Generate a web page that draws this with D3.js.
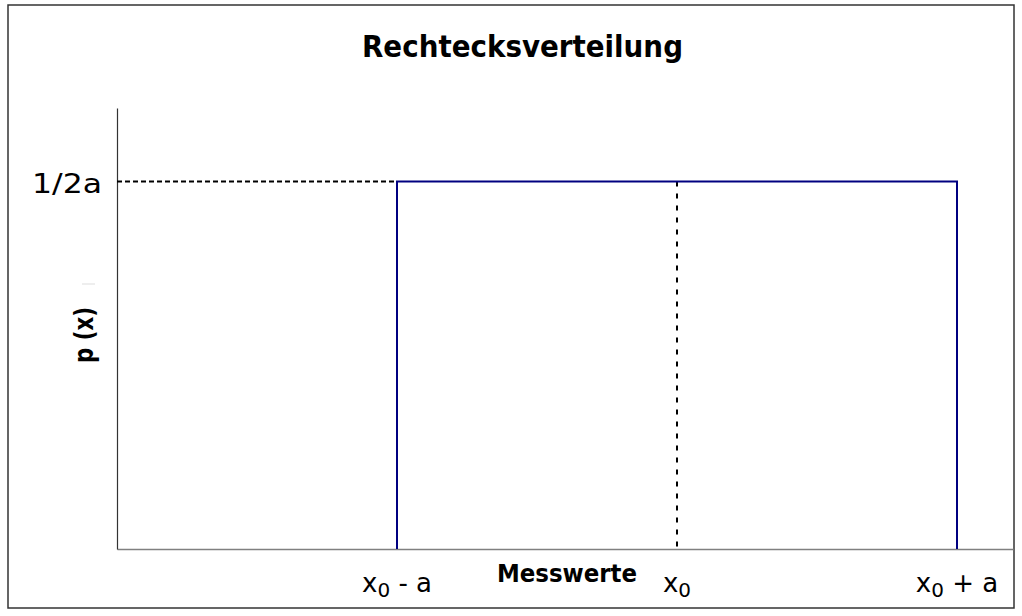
<!DOCTYPE html>
<html>
<head>
<meta charset="utf-8">
<script src="https://cdn.jsdelivr.net/npm/d3@7"></script>
<style>
html,body{margin:0;padding:0;background:#fff;}
svg{display:block;}
</style>
</head>
<body>
<svg id="chart" width="1022" height="616"></svg>
<script>
// Data (x in units of a relative to x0, y relative to 1/2a)
const title = "Rechtecksverteilung";
const xTitle = "Messwerte";
const yTitle = "p (x)";
const xDomain = [-2, 1.2];
const yDomain = [0, 1.2];
const xTickValues = [-1, 0, 1];
const xTickLabels = [["x", "0", " - a"], ["x", "0", ""], ["x", "0", " + a"]];
const yTickValues = [1];
const yTickLabels = ["1/2a"];
const densityX = [-1, -1, 1, 1];
const densityY = [0, 1, 1, 0];

const svg = d3.select("#chart");
const font = "'DejaVu Sans', sans-serif";

const x = d3.scaleLinear().domain(xDomain).range([117, 1013]);
const y = d3.scaleLinear().domain(yDomain).range([549, 108]);

// outer border
svg.append("rect").attr("x", 8).attr("y", 5).attr("width", 1006).attr("height", 603)
  .attr("fill", "none").attr("stroke", "#333").attr("stroke-width", 1.5);

// title
svg.append("text").attr("x", 522.5).attr("y", 57).attr("text-anchor", "middle")
  .attr("font-family", font).attr("font-weight", "bold").attr("font-size", 30)
  .attr("textLength", 321).attr("lengthAdjust", "spacingAndGlyphs").text(title);

// axes
const xAxis = d3.axisBottom(x).tickValues(xTickValues).tickSize(0).tickFormat("");
const gx = svg.append("g").attr("transform", `translate(0,${y(0)})`).call(xAxis);
gx.select(".domain").attr("stroke", "#808080").attr("stroke-width", 1.5);

const yAxis = d3.axisLeft(y).tickValues(yTickValues).tickSize(0).tickFormat("");
const gy = svg.append("g").attr("transform", `translate(${x(xDomain[0])},0)`).call(yAxis);
gy.select(".domain").attr("stroke", "#333").attr("stroke-width", 1.2);

// reference dashed lines
svg.append("line").attr("x1", x(xDomain[0])).attr("x2", x(densityX[0]))
  .attr("y1", y(yTickValues[0])).attr("y2", y(yTickValues[0]))
  .attr("stroke", "#000").attr("stroke-width", 2).attr("stroke-dasharray", "5,3");
svg.append("line").attr("x1", x(0)).attr("x2", x(0))
  .attr("y1", y(yTickValues[0])).attr("y2", y(0))
  .attr("stroke", "#000").attr("stroke-width", 2).attr("stroke-dasharray", "5,7");

// rectangle density
const line = d3.line().x(d => x(d[0])).y(d => y(d[1]));
svg.append("path").datum(densityX.map((v, i) => [v, densityY[i]]))
  .attr("d", line).attr("fill", "none").attr("stroke", "#000080").attr("stroke-width", 2);

// x tick labels
xTickValues.forEach((v, i) => {
  const t = svg.append("text").attr("x", x(v)).attr("y", 592).attr("text-anchor", "middle")
    .attr("font-family", font).attr("font-size", 26);
  const parts = xTickLabels[i];
  t.append("tspan").text(parts[0]);
  t.append("tspan").attr("font-size", 20).attr("dy", 5).text(parts[1]);
  if (parts[2]) t.append("tspan").attr("dy", -5).text(parts[2]);
});

// y tick label
yTickValues.forEach((v, i) => {
  svg.append("text").attr("x", 102).attr("y", y(v) + 11).attr("text-anchor", "end")
    .attr("font-family", font).attr("font-size", 26)
    .attr("textLength", 70).attr("lengthAdjust", "spacingAndGlyphs").text(yTickLabels[i]);
});

// axis titles
svg.append("text").attr("x", 567).attr("y", 582).attr("text-anchor", "middle")
  .attr("font-family", font).attr("font-weight", "bold").attr("font-size", 25)
  .attr("textLength", 140).attr("lengthAdjust", "spacingAndGlyphs").text(xTitle);

svg.append("text").attr("transform", "translate(93,335) rotate(-90)").attr("text-anchor", "middle")
  .attr("font-family", font).attr("font-weight", "bold").attr("font-size", 26)
  .attr("textLength", 56).attr("lengthAdjust", "spacingAndGlyphs").text(yTitle);
svg.append("line").attr("x1", 82).attr("x2", 95).attr("y1", 284).attr("y2", 284)
  .attr("stroke", "#ddd").attr("stroke-width", 1);
</script>
</body>
</html>
